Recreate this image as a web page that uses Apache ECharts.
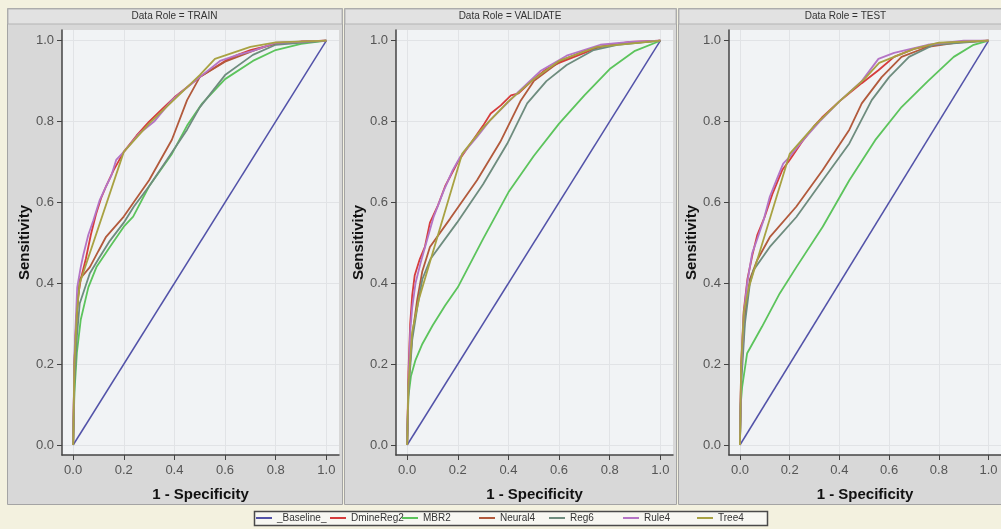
<!DOCTYPE html>
<html>
<head>
<meta charset="utf-8">
<script src="https://cdn.jsdelivr.net/npm/echarts@6/dist/echarts.min.js"></script>
<style>
html,body{margin:0;padding:0;background:#f3f1df;}
#chart{width:1001px;height:529px;}
</style>
</head>
<body>
<div id="chart"></div>
<script>
// ---------- data ----------
const roles = ['TRAIN', 'VALIDATE', 'TEST'];
const seriesNames = ['_Baseline_', 'DmineReg2', 'MBR2', 'Neural4', 'Reg6', 'Rule4', 'Tree4'];
const tickValues = [0, 0.2, 0.4, 0.6, 0.8, 1.0];

// TRAIN  [1 - specificity, sensitivity]
const train_Baseline = [[0,0],[1,1]];
const train_DmineReg2 = [[0,0],[0.005,0.2],[0.01,0.28],[0.02,0.37],[0.03,0.41],[0.05,0.46],[0.07,0.52],[0.09,0.57],[0.11,0.61],[0.13,0.64],[0.16,0.68],[0.2,0.725],[0.25,0.765],[0.3,0.8],[0.35,0.83],[0.4,0.86],[0.45,0.885],[0.5,0.91],[0.55,0.93],[0.6,0.95],[0.65,0.965],[0.7,0.977],[0.8,0.992],[0.9,0.998],[1,1]];
const train_MBR2 = [[0,0],[0.005,0.13],[0.015,0.23],[0.03,0.31],[0.06,0.39],[0.092,0.44],[0.145,0.49],[0.2,0.54],[0.237,0.565],[0.3,0.64],[0.39,0.72],[0.45,0.79],[0.51,0.845],[0.6,0.905],[0.71,0.95],[0.8,0.977],[0.9,0.992],[1,1]];
const train_Neural4 = [[0,0],[0.005,0.2],[0.015,0.33],[0.026,0.41],[0.066,0.44],[0.1,0.48],[0.13,0.515],[0.2,0.565],[0.3,0.655],[0.39,0.755],[0.45,0.853],[0.5,0.91],[0.6,0.948],[0.71,0.975],[0.8,0.994],[1,1]];
const train_Reg6 = [[0,0],[0.005,0.15],[0.015,0.27],[0.026,0.35],[0.066,0.425],[0.1,0.46],[0.145,0.505],[0.2,0.55],[0.24,0.59],[0.3,0.64],[0.37,0.705],[0.45,0.78],[0.5,0.835],[0.6,0.915],[0.71,0.965],[0.8,0.99],[1,1]];
const train_Rule4 = [[0,0],[0.005,0.22],[0.01,0.3],[0.016,0.39],[0.03,0.44],[0.04,0.47],[0.06,0.52],[0.08,0.556],[0.105,0.606],[0.13,0.64],[0.15,0.665],[0.17,0.705],[0.2,0.725],[0.26,0.77],[0.32,0.8],[0.39,0.853],[0.45,0.885],[0.5,0.91],[0.58,0.95],[0.65,0.965],[0.71,0.975],[0.8,0.995],[1,1]];
const train_Tree4 = [[0,0],[0.005,0.2],[0.015,0.33],[0.026,0.4],[0.2,0.725],[0.3,0.795],[0.4,0.855],[0.5,0.915],[0.56,0.955],[0.7,0.985],[0.8,0.996],[1,1]];

// VALIDATE
const validate_Baseline = [[0,0],[1,1]];
const validate_DmineReg2 = [[0,0],[0.005,0.18],[0.012,0.3],[0.02,0.37],[0.03,0.42],[0.05,0.46],[0.07,0.49],[0.09,0.55],[0.12,0.59],[0.15,0.64],[0.2,0.7],[0.25,0.745],[0.3,0.79],[0.33,0.82],[0.37,0.84],[0.41,0.865],[0.44,0.87],[0.5,0.905],[0.55,0.93],[0.6,0.945],[0.7,0.97],[0.76,0.985],[0.88,0.997],[1,1]];
const validate_MBR2 = [[0,0],[0.005,0.12],[0.015,0.17],[0.033,0.21],[0.06,0.25],[0.1,0.295],[0.15,0.345],[0.2,0.39],[0.3,0.51],[0.4,0.625],[0.5,0.715],[0.6,0.795],[0.7,0.865],[0.8,0.93],[0.9,0.975],[1,1]];
const validate_Neural4 = [[0,0],[0.005,0.15],[0.02,0.27],[0.04,0.36],[0.06,0.43],[0.09,0.49],[0.17,0.56],[0.276,0.655],[0.368,0.75],[0.447,0.85],[0.5,0.9],[0.605,0.95],[0.71,0.977],[0.8,0.99],[1,1]];
const validate_Reg6 = [[0,0],[0.005,0.13],[0.02,0.26],[0.04,0.34],[0.06,0.41],[0.092,0.46],[0.197,0.55],[0.3,0.645],[0.395,0.745],[0.474,0.845],[0.55,0.9],[0.63,0.94],[0.737,0.977],[0.83,0.99],[1,1]];
const validate_Rule4 = [[0,0],[0.005,0.15],[0.012,0.28],[0.02,0.34],[0.033,0.4],[0.053,0.45],[0.08,0.51],[0.105,0.565],[0.145,0.63],[0.18,0.68],[0.21,0.713],[0.276,0.762],[0.33,0.805],[0.434,0.87],[0.526,0.925],[0.63,0.963],[0.763,0.99],[0.88,0.997],[1,1]];
const validate_Tree4 = [[0,0],[0.005,0.15],[0.02,0.28],[0.046,0.36],[0.217,0.72],[0.3,0.785],[0.4,0.85],[0.5,0.905],[0.6,0.95],[0.75,0.985],[1,1]];

// TEST
const test_Baseline = [[0,0],[1,1]];
const test_DmineReg2 = [[0,0],[0.005,0.2],[0.015,0.33],[0.03,0.41],[0.05,0.47],[0.07,0.52],[0.1,0.565],[0.13,0.62],[0.17,0.68],[0.2,0.705],[0.25,0.75],[0.3,0.79],[0.33,0.81],[0.4,0.85],[0.49,0.895],[0.557,0.927],[0.62,0.96],[0.7,0.98],[0.8,0.993],[1,1]];
const test_MBR2 = [[0,0],[0.003,0.1],[0.009,0.144],[0.029,0.227],[0.089,0.293],[0.16,0.375],[0.227,0.44],[0.333,0.54],[0.44,0.655],[0.544,0.754],[0.65,0.836],[0.756,0.9],[0.86,0.96],[0.94,0.99],[1,1]];
const test_Neural4 = [[0,0],[0.005,0.18],[0.02,0.32],[0.04,0.41],[0.069,0.457],[0.12,0.514],[0.227,0.59],[0.333,0.68],[0.44,0.78],[0.49,0.845],[0.57,0.91],[0.65,0.96],[0.756,0.985],[0.9,0.998],[1,1]];
const test_Reg6 = [[0,0],[0.005,0.15],[0.02,0.3],[0.04,0.4],[0.055,0.433],[0.12,0.49],[0.227,0.564],[0.333,0.655],[0.44,0.746],[0.53,0.853],[0.6,0.91],[0.68,0.96],[0.78,0.99],[1,1]];
const test_Rule4 = [[0,0],[0.005,0.18],[0.015,0.32],[0.029,0.4],[0.049,0.474],[0.07,0.51],[0.095,0.556],[0.12,0.614],[0.15,0.66],[0.174,0.696],[0.2,0.713],[0.254,0.754],[0.32,0.8],[0.4,0.85],[0.49,0.9],[0.557,0.955],[0.62,0.97],[0.756,0.99],[0.9,1],[1,1]];
const test_Tree4 = [[0,0],[0.005,0.2],[0.016,0.33],[0.036,0.39],[0.2,0.72],[0.3,0.79],[0.4,0.85],[0.5,0.905],[0.56,0.945],[0.7,0.98],[0.8,0.995],[1,1]];

const panelData = [
  [train_Baseline, train_DmineReg2, train_MBR2, train_Neural4, train_Reg6, train_Rule4, train_Tree4],
  [validate_Baseline, validate_DmineReg2, validate_MBR2, validate_Neural4, validate_Reg6, validate_Rule4, validate_Tree4],
  [test_Baseline, test_DmineReg2, test_MBR2, test_Neural4, test_Reg6, test_Rule4, test_Tree4]
];

// ---------- style / layout ----------
const colors = ['#5252a8', '#d63c3c', '#5cc45c', '#b25a3c', '#6e8c7e', '#b474c6', '#a8a242'];
const FONT = '"Liberation Sans", Arial, sans-serif';
const panelX = [7, 344, 678];
const panelW = [335, 332, 335];
const gridLeft = [62, 396, 729];
const legendLeft = [256, 330, 402, 479, 549, 623, 697];

const chart = echarts.init(document.getElementById('chart'), null, {renderer: 'canvas'});

const graphics = [];
roles.forEach((r, i) => {
  graphics.push({type: 'rect', z: -10, shape: {x: panelX[i] + 0.5, y: 8.5, width: panelW[i], height: 496},
    style: {fill: '#d8d8d8', stroke: '#a4a4a4', lineWidth: 1}, silent: true});
  graphics.push({type: 'rect', z: -9, shape: {x: panelX[i] + 1, y: 9, width: panelW[i] - 1, height: 15},
    style: {fill: '#e2e2e2', stroke: '#b4b4b4', lineWidth: 1}, silent: true});
  graphics.push({type: 'text', z: -8, x: panelX[i] + panelW[i] / 2, y: 16.5,
    style: {text: 'Data Role = ' + r, textAlign: 'center', textVerticalAlign: 'middle',
      font: '10px ' + FONT, fill: '#333'}, silent: true});
});
graphics.push({type: 'rect', z: -10, shape: {x: 254.5, y: 511.5, width: 513, height: 14},
  style: {fill: '#f7f7f2', stroke: '#4a4a4a', lineWidth: 1.5}, silent: true});

const grids = [], xAxes = [], yAxes = [], series = [], legends = [];
roles.forEach((r, i) => {
  grids.push({left: gridLeft[i], top: 30, width: 277, height: 425, show: true,
    backgroundColor: '#f1f3f5', borderWidth: 0, containLabel: false});
  xAxes.push({
    type: 'value', gridIndex: i, min: -0.044, max: 1.05,
    name: '1 - Specificity', nameLocation: 'middle', nameGap: 32,
    nameTextStyle: {fontFamily: FONT, fontWeight: 'bold', fontSize: 15, color: '#111'},
    axisLine: {show: true, onZero: false, lineStyle: {color: '#444', width: 1.5}},
    axisTick: {show: true, length: 5, customValues: tickValues, lineStyle: {color: '#444'}},
    axisLabel: {customValues: tickValues, margin: 9, fontFamily: FONT, fontSize: 13, color: '#555',
      formatter: v => v.toFixed(1)},
    splitLine: {show: true, lineStyle: {color: '#e1e3e6', width: 1}}
  });
  yAxes.push({
    type: 'value', gridIndex: i, min: -0.0247, max: 1.0265,
    name: 'Sensitivity', nameLocation: 'middle', nameGap: 25,
    nameTextStyle: {fontFamily: FONT, fontWeight: 'bold', fontSize: 15, color: '#111'},
    axisLine: {show: true, onZero: false, lineStyle: {color: '#444', width: 1.5}},
    axisTick: {show: true, length: 5, customValues: tickValues, lineStyle: {color: '#444'}},
    axisLabel: {customValues: tickValues, margin: 8, fontFamily: FONT, fontSize: 13, color: '#555',
      formatter: v => v.toFixed(1)},
    splitLine: {show: true, lineStyle: {color: '#e1e3e6', width: 1}}
  });
  seriesNames.forEach((n, k) => {
    series.push({
      type: 'line', name: n, xAxisIndex: i, yAxisIndex: i,
      data: panelData[i][k], showSymbol: false, symbol: 'none',
      lineStyle: {color: colors[k], width: k === 0 ? 1.5 : 1.8},
      itemStyle: {color: colors[k]}, z: 2 + k, silent: true
    });
  });
});

seriesNames.forEach((n, k) => {
  legends.push({
    data: [n], left: legendLeft[k], top: 512, orient: 'horizontal',
    icon: 'rect', itemWidth: 16, itemHeight: 2, padding: 0,
    textStyle: {fontFamily: FONT, fontSize: 10, color: '#333', lineHeight: 12},
    selectedMode: false
  });
});

chart.setOption({
  animation: false,
  backgroundColor: '#f3f1df',
  color: colors,
  graphic: graphics,
  grid: grids,
  xAxis: xAxes,
  yAxis: yAxes,
  legend: legends,
  series: series
});
</script>
</body>
</html>
